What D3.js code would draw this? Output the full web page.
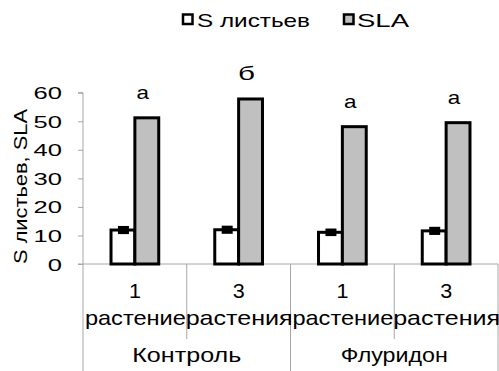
<!DOCTYPE html>
<html><head><meta charset="utf-8">
<script src="https://cdn.jsdelivr.net/npm/d3@7"></script>
<style>
html,body{margin:0;padding:0;background:#fff;}
text{font-family:"Liberation Sans",Arial,sans-serif;fill:#000;}
</style></head>
<body><svg id="c" width="499" height="371"></svg>
<script>
const groups = ["Контроль", "Флуридон"];
const counts = ["1", "3", "1", "3"];
const plantWords = ["растение", "растения", "растение", "растения"];
const seriesNames = ["S листьев", "SLA"];
const leafArea = [11.9, 12.0, 11.1, 11.6];
const leafErr = [0.9, 0.9, 0.8, 0.9];
const sla = [51.2, 57.8, 48.1, 49.5];
const sigLetters = ["а", "б", "а", "а"];
const yTicks = [0, 10, 20, 30, 40, 50, 60];
const yTitle = "S листьев, SLA";

(function () {
const svg = d3.select("#c");
const pL = 83, pR = 498, pT = 92.7, pB = 264;
const axisColor = "#a6a6a6";
const grayFill = "#c0c0c0";

const cats = d3.range(counts.length);
const x = d3.scaleBand().domain(cats).range([pL, pR]).padding(0);
const bw = x.bandwidth();
const xs = d3.scaleBand().domain(seriesNames).range([bw * 0.27, bw * 0.73]).padding(0);
const y = d3.scaleLinear().domain([0, 60]).range([pB, pT]);

// y axis
const yAxis = d3.axisLeft(y).tickValues(yTicks).tickSize(5).tickPadding(0).tickFormat(d3.format("d"));
const gy = svg.append("g").attr("transform", `translate(${pL},0)`).call(yAxis);
gy.select(".domain").attr("stroke", axisColor).attr("d", `M-5,${pT}H0V${pB}`);
gy.selectAll(".tick line").attr("stroke", axisColor);
gy.selectAll(".tick text").remove();
gy.selectAll(".tick").append("text")
  .attr("x", -21).attr("y", 6)
  .attr("text-anchor", "end")
  .style("font-size", "17px")
  .attr("textLength", d => String(d).length * 14.2)
  .attr("lengthAdjust", "spacingAndGlyphs")
  .text(d => d);

// baseline
svg.append("line").attr("x1", pL - 5).attr("x2", pR).attr("y1", pB).attr("y2", pB)
  .attr("stroke", axisColor).attr("stroke-width", 1);

// category separators
const sepX = cats.map(i => x(i)).concat([pR]);
sepX.forEach((sx, i) => {
  const full = (i % 2 === 0);
  svg.append("line").attr("x1", sx).attr("x2", sx).attr("y1", pB)
    .attr("y2", full ? 371 : 339).attr("stroke", axisColor).attr("stroke-width", 1);
});

// category labels
cats.forEach(i => {
  const cx = x(i) + bw / 2;
  svg.append("text").attr("x", cx).attr("y", 298).attr("text-anchor", "middle")
    .style("font-size", "21px").attr("textLength", 12).attr("lengthAdjust", "spacingAndGlyphs")
    .text(counts[i]);
  svg.append("text").attr("x", cx + 0.5).attr("y", 325).attr("text-anchor", "middle")
    .style("font-size", "21px")
    .attr("textLength", plantWords[i] === "растение" ? 101 : 107)
    .attr("lengthAdjust", "spacingAndGlyphs")
    .text(plantWords[i]);
});
groups.forEach((g, gi) => {
  const cx = (x(gi * 2) + x(gi * 2 + 1) + bw) / 2;
  svg.append("text").attr("x", cx).attr("y", 362).attr("text-anchor", "middle")
    .style("font-size", "20px").attr("textLength", gi === 0 ? 109 : 107)
    .attr("lengthAdjust", "spacingAndGlyphs").text(g);
});

// bars
const sw = 3;
cats.forEach(i => {
  const x0 = x(i);
  svg.append("rect").attr("x", x0 + xs(seriesNames[0])).attr("y", y(leafArea[i]))
    .attr("width", xs.bandwidth()).attr("height", y(0) - y(leafArea[i]))
    .attr("fill", "#fff").attr("stroke", "#000").attr("stroke-width", sw);
  svg.append("rect").attr("x", x0 + xs(seriesNames[1])).attr("y", y(sla[i]))
    .attr("width", xs.bandwidth()).attr("height", y(0) - y(sla[i]))
    .attr("fill", grayFill).attr("stroke", "#000").attr("stroke-width", sw);
  const ecx = x0 + xs(seriesNames[0]) + xs.bandwidth() / 2 + 0.5;
  const ytop = y(leafArea[i] + leafErr[i]) - 1.5, ybot = y(leafArea[i] - leafErr[i]) + 1.5;
  svg.append("rect").attr("x", ecx - 5.5).attr("y", ytop).attr("width", 11).attr("height", ybot - ytop)
    .attr("fill", "#000");
  const gcx = x0 + xs(seriesNames[1]) + xs.bandwidth() / 2 - 4;
  svg.append("text").attr("x", gcx).attr("y", y(sla[i]) - 19).attr("text-anchor", "middle")
    .style("font-size", "19px").attr("textLength", sigLetters[i] === "б" ? 17 : 12.5)
    .attr("lengthAdjust", "spacingAndGlyphs").text(sigLetters[i]);
});

// y title
svg.append("text").attr("transform", "translate(27,186.5) rotate(-90)")
  .attr("text-anchor", "middle").style("font-size", "18px")
  .attr("textLength", 155).attr("lengthAdjust", "spacingAndGlyphs").text(yTitle);

// legend
const legend = [
  {name: seriesNames[0], fill: "#fff", sx: 183, tx: 197, tl: 113},
  {name: seriesNames[1], fill: grayFill, sx: 344, tx: 357, tl: 52}
];
legend.forEach(l => {
  svg.append("rect").attr("x", l.sx).attr("y", 14.5).attr("width", 9.5).attr("height", 9.5)
    .attr("fill", l.fill).attr("stroke", "#000").attr("stroke-width", 2.5);
  svg.append("text").attr("x", l.tx).attr("y", 27).style("font-size", "18.5px")
    .attr("textLength", l.tl).attr("lengthAdjust", "spacingAndGlyphs").text(l.name);
});
})();
</script></body></html>
